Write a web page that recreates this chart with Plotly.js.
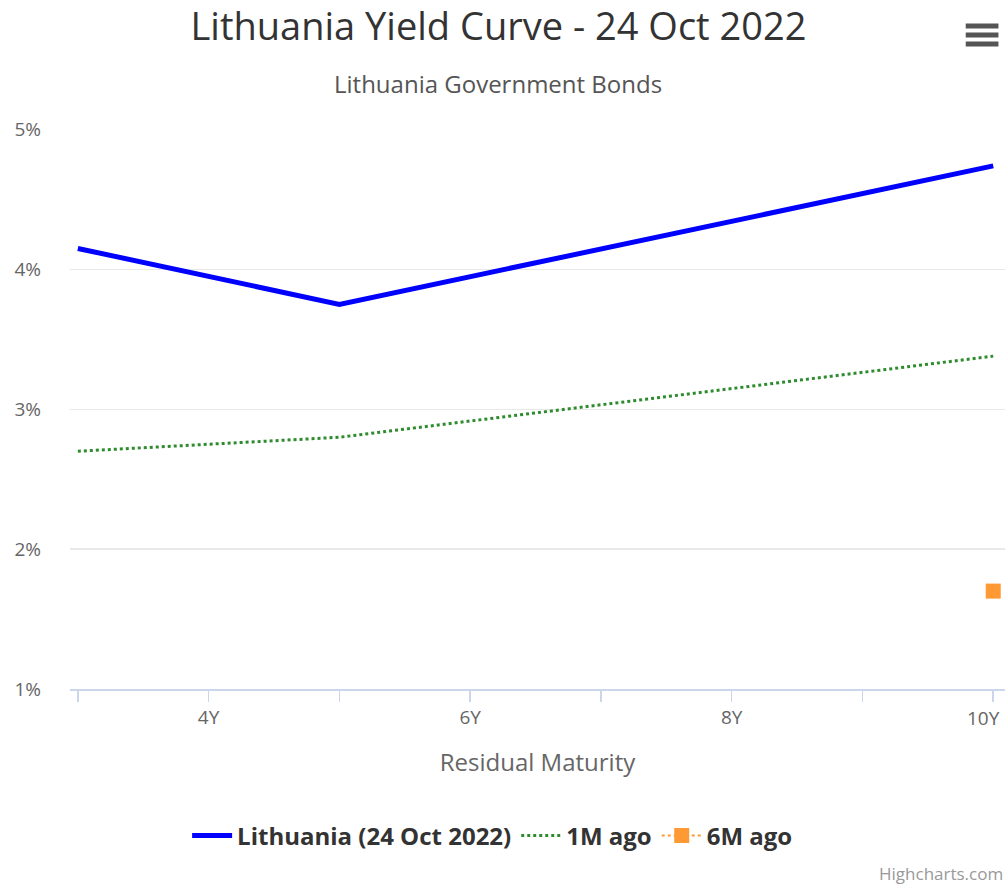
<!DOCTYPE html>
<html>
<head>
<meta charset="utf-8">
<script src="https://cdn.plot.ly/plotly-3.0.1.min.js"></script>
<style>
html,body{margin:0;padding:0;background:#fff;}
#chart{width:1007px;height:885px;}
</style>
</head>
<body>
<div id="chart"></div>
<script>
// Data
const maturities = [3, 5, 10];
const lithuaniaYield = [4.15, 3.75, 4.74];
const oneMonthAgo = [2.70, 2.80, 3.38];
const sixMonthMaturity = [10];
const sixMonthAgo = [1.70];
const xTickVals = [3, 4, 5, 6, 7, 8, 9, 10];
const xTickText = ['', '4Y', '', '6Y', '', '8Y', '', '10Y'];
const yTickVals = [1, 2, 3, 4, 5];
const yTickText = ['1%', '2%', '3%', '4%', '5%'];

const FONT = '"Open Sans", "DejaVu Sans", sans-serif';

const traces = [
  {
    x: maturities, y: lithuaniaYield, type: 'scatter', mode: 'lines',
    name: 'Lithuania (24 Oct 2022)',
    line: {color: '#0000ff', width: 5}
  },
  {
    x: maturities, y: oneMonthAgo, type: 'scatter', mode: 'lines',
    name: '1M ago', line: {color: '#2e8b2e', width: 3, dash: 'dot'}
  },
  {
    x: sixMonthMaturity, y: sixMonthAgo, type: 'scatter', mode: 'lines+markers',
    name: '6M ago', line: {color: '#ff9933', width: 2, dash: 'dot'},
    marker: {symbol: 'square', size: 15, color: '#ff9933'}
  }
];

// The last tick label is drawn as an annotation, shifted left so it fits inside the page (as Highcharts does)
const lastIdx = xTickVals.length - 1;
const shownTickText = xTickText.map((t, i) => i === lastIdx ? '' : t);

const layout = {
  width: 1007, height: 885,
  margin: {l: 70, r: 2, t: 129, b: 196},
  paper_bgcolor: '#fff', plot_bgcolor: '#fff',
  showlegend: true,
  title: {
    text: 'Lithuania Yield Curve - 24 Oct 2022',
    font: {family: FONT, size: 38, color: '#333'},
    x: 0.495, xanchor: 'center', y: 0.9695, yanchor: 'middle'
  },
  xaxis: {
    range: [2.94, 10.09],
    tickvals: xTickVals, ticktext: shownTickText,
    ticks: 'outside', ticklen: 11, tickcolor: '#ccd6eb', tickwidth: 1.5,
    showline: true, linecolor: '#ccd6eb', linewidth: 1.5,
    showgrid: false, zeroline: false,
    tickfont: {family: FONT, size: 19, color: '#666'},
    title: {text: 'Residual Maturity', font: {family: FONT, size: 24, color: '#666'}, standoff: 25},
    fixedrange: true
  },
  yaxis: {
    range: [1, 5.004],
    tickvals: yTickVals, ticktext: yTickText,
    showgrid: true, gridcolor: '#e9e9e9', gridwidth: 1.5,
    zeroline: false, showline: false, ticks: '',
    tickfont: {family: FONT, size: 19, color: '#666'},
    ticklabelstandoff: 28,
    fixedrange: true
  },
  legend: {
    orientation: 'h', x: 0.452, xanchor: 'center', y: -0.2625, yanchor: 'middle',
    font: {family: FONT, size: 24, color: '#333', weight: 'bold'},
    itemwidth: 40, tracegroupgap: 0
  },
  annotations: [
    {
      text: xTickText[lastIdx], xref: 'x', yref: 'paper',
      x: xTickVals[lastIdx], y: -0.051, xanchor: 'right', yanchor: 'middle', xshift: 9,
      showarrow: false,
      font: {family: FONT, size: 19, color: '#666'}
    },
    {
      text: 'Lithuania Government Bonds', xref: 'paper', yref: 'paper',
      x: 0.458, y: 1.081, xanchor: 'center', yanchor: 'middle', showarrow: false,
      font: {family: FONT, size: 24, color: '#555'}
    },
    {
      text: 'Highcharts.com', xref: 'paper', yref: 'paper',
      x: 1.0, y: -0.330, xanchor: 'right', yanchor: 'middle', showarrow: false,
      font: {family: FONT, size: 17, color: '#999'}
    }
  ],
  shapes: [
    {type: 'line', xref: 'paper', yref: 'paper', x0: 0.958, x1: 0.993, y0: 1.184, y1: 1.184, line: {color: '#555', width: 5}},
    {type: 'line', xref: 'paper', yref: 'paper', x0: 0.958, x1: 0.993, y0: 1.168, y1: 1.168, line: {color: '#555', width: 5}},
    {type: 'line', xref: 'paper', yref: 'paper', x0: 0.958, x1: 0.993, y0: 1.152, y1: 1.152, line: {color: '#555', width: 5}}
  ]
};

Plotly.newPlot('chart', traces, layout, {displayModeBar: false, staticPlot: true});
</script>
</body>
</html>
